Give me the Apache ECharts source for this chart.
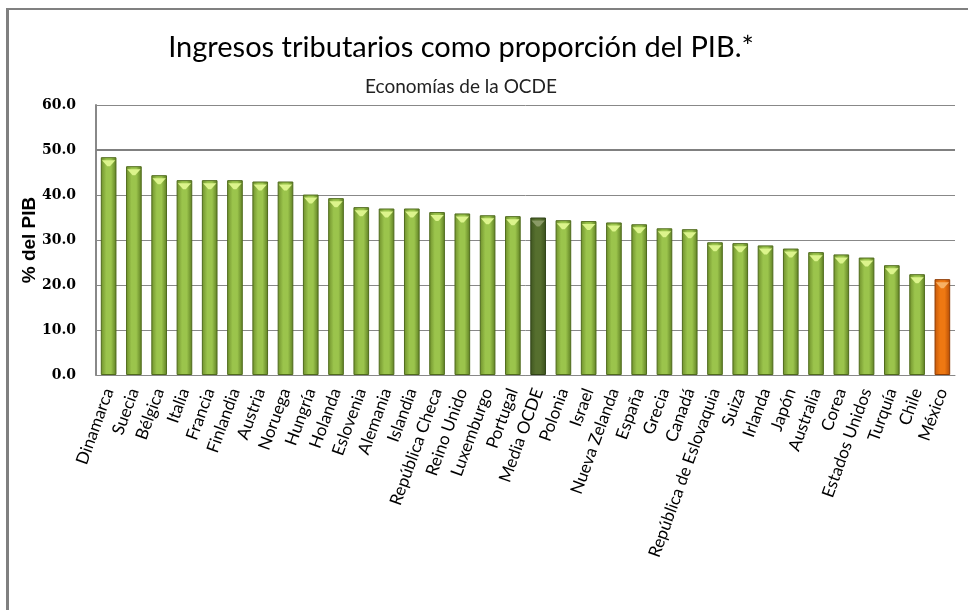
<!DOCTYPE html>
<html>
<head>
<meta charset="utf-8">
<script src="https://cdn.jsdelivr.net/npm/echarts@6/dist/echarts.min.js"></script>
<style>html,body{margin:0;padding:0;background:#fff}#c{width:968px;height:610px}</style>
</head>
<body>
<div id="c"></div>
<script>
const categories = ["Dinamarca","Suecia","Bélgica","Italia","Francia","Finlandia","Austria","Noruega","Hungría","Holanda","Eslovenia","Alemania","Islandia","República Checa","Reino Unido","Luxemburgo","Portugal","Media OCDE","Polonia","Israel","Nueva Zelanda","España","Grecia","Canadá","República de Eslovaquia","Suiza","Irlanda","Japón","Australia","Corea","Estados Unidos","Turquía","Chile","México"];
const values = [48.4,46.4,44.4,43.3,43.3,43.3,43.0,43.0,40.1,39.3,37.3,37.0,37.0,36.2,35.9,35.5,35.3,35.0,34.4,34.2,33.9,33.5,32.6,32.4,29.5,29.3,28.8,28.1,27.3,26.8,26.1,24.4,22.4,21.3];
const yTicks = [0,10,20,30,40,50,60];

function grad(a,b,c){
  return new echarts.graphic.LinearGradient(0,0,1,0,[
    {offset:0,color:a},{offset:0.35,color:b},{offset:0.65,color:b},{offset:1,color:c}]);
}
const styles = {
  normal:{body:grad('#6e8f2b','#9bc44c','#5d7d22'),border:'#4f6b1c',cap:'#dcf48c'},
  oecd:{body:grad('#3f5620','#566f2e','#3a501c'),border:'#2f4216',cap:'#8a9a66'},
  mex:{body:grad('#c5580a','#ee7812','#b44c05'),border:'#8e3c04',cap:'#f7b064'}
};
function kind(name){return name==='Media OCDE'?'oecd':(name==='México'?'mex':'normal');}

const barData = values.map((v,i)=>{const s=styles[kind(categories[i])];return {value:v,itemStyle:{color:s.body,borderColor:s.border,borderWidth:1}};});
const capData = values.map((v,i)=>{const s=styles[kind(categories[i])];return {value:v,itemStyle:{color:s.cap}};});

const chart = echarts.init(document.getElementById('c'));
chart.setOption({
  animation:false,
  backgroundColor:'#fff',
  title:[
    {text:'Ingresos tributarios como proporción del PIB.*',left:456,top:28,textAlign:'center',
     textStyle:{fontFamily:'Lato',fontSize:29,fontWeight:'normal',color:'#000'}},
    {text:'Economías de la OCDE',left:456,top:72,textAlign:'center',
     textStyle:{fontFamily:'Lato',fontSize:19,fontWeight:'normal',color:'#222'}}
  ],
  graphic:[
    {type:'rect',shape:{x:6,y:8,width:3,height:602},style:{fill:'#808080'}},
    {type:'rect',shape:{x:6,y:8,width:962,height:2},style:{fill:'#808080'}}
  ],
  grid:{left:96,right:13,top:105,bottom:235},
  xAxis:{type:'category',data:categories,
    axisLine:{lineStyle:{color:'#888',width:1}},axisTick:{show:false},
    axisLabel:{rotate:70,interval:0,margin:14,fontFamily:'Lato',fontSize:17,color:'#000'}},
  yAxis:{type:'value',min:0,max:60,interval:10,
    name:'% del PIB',nameLocation:'middle',nameGap:57,nameRotate:90,nameMoveOverlap:false,
    nameTextStyle:{fontFamily:'Liberation Sans',fontWeight:'bold',fontSize:19,color:'#000'},
    axisLine:{show:true,lineStyle:{color:'#888',width:2}},axisTick:{show:false},
    splitLine:{lineStyle:{color:'#888',width:1}},
    axisLabel:{margin:20,fontFamily:'DejaVu Serif',fontWeight:'bold',fontSize:14,color:'#000',
      formatter:v=>yTicks.includes(v)?v.toFixed(1):''}},
  series:[
    {type:'bar',data:barData,barWidth:'62%',
     markLine:{silent:true,symbol:'none',label:{show:false},lineStyle:{color:'#808080',width:2,type:'solid'},data:[{yAxis:50}]},
     z:2},
    {type:'pictorialBar',data:capData,barGap:'-100%',barWidth:'62%',
     symbol:'path://M0,0 L10,0 L6,4 L4,4 Z',symbolSize:['85%',6],symbolPosition:'end',symbolOffset:[0,'50%'],
     z:3}
  ]
});
</script>
</body>
</html>
